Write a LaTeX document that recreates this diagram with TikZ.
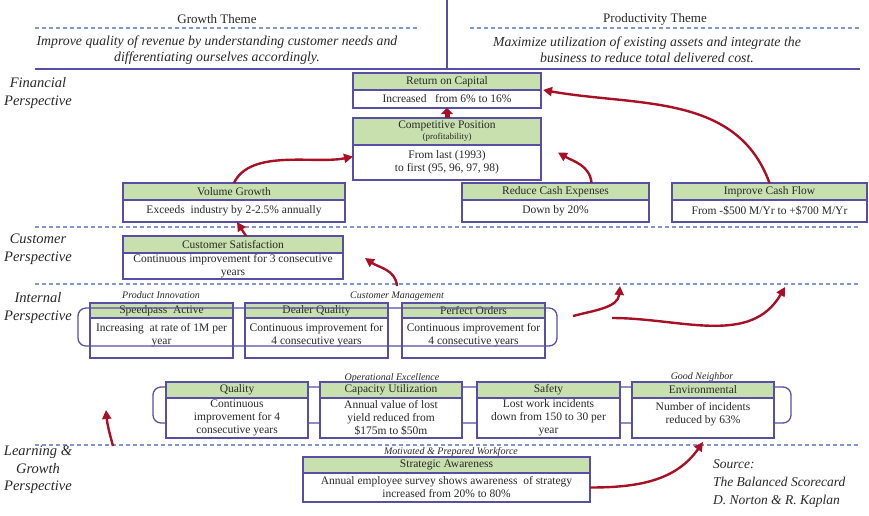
\documentclass[tikz,border=0pt]{standalone}
\usepackage{fontspec}
\setmainfont{Liberation Serif}
\usetikzlibrary{positioning,arrows.meta}

\definecolor{boxline}{RGB}{88,78,165}
\definecolor{hdrgreen}{RGB}{200,224,174}
\definecolor{arrowred}{RGB}{168,16,38}
\definecolor{dashblue}{RGB}{128,150,210}
\definecolor{inktext}{RGB}{40,40,40}

\begin{document}
\begin{tikzpicture}[x=1pt, y=1pt, every node/.style={inner sep=0pt, outer sep=0pt, text=inktext}]
	\tikzstyle{hdr}=[draw=boxline, line width=1.2pt, fill=hdrgreen, align=center, font=\fontsize{11.5}{12}\selectfont]
	\tikzstyle{body}=[draw=boxline, line width=1.2pt, fill=white, align=center, font=\fontsize{11.5}{13}\selectfont]
	\tikzstyle{theme}=[font=\fontsize{13}{15}\selectfont]
	\tikzstyle{aim}=[align=center, font=\fontsize{13.8}{16}\selectfont\itshape]
	\tikzstyle{persp}=[align=center, font=\fontsize{14.5}{17.5}\selectfont\itshape]
	\tikzstyle{tag}=[font=\fontsize{10}{11}\selectfont\itshape]
	\tikzstyle{sep}=[dashblue, line width=1.2pt, dash pattern=on 4pt off 3pt]
	\tikzstyle{rule}=[boxline, line width=1.3pt]
	\tikzstyle{link}=[arrowred, line width=2.4pt, -{Triangle[length=9pt,width=9pt]}]
	\useasboundingbox (0,0) rectangle (869,-515);

	\node[theme] (gt) at (217,-19) {Growth Theme};
	\node[aim] (gtx) at (217,-50) {Improve quality of revenue by understanding customer needs and\\differentiating ourselves accordingly.};
	\node[theme] (pt) at (655,-19) {Productivity Theme};
	\node[aim] (ptx) at (647,-50) {Maximize utilization of existing assets and integrate the\\business to reduce total delivered cost.};
	\draw[sep] (35,-28) -- (420,-28);
	\draw[sep] (470,-28) -- (860,-28);
	\draw[rule] (35,-69) -- (860,-69);
	\draw[rule] (447,0) -- (447,-69);

	\draw[sep] (35,-227) -- (860,-227);
	\draw[sep] (35,-284) -- (860,-284);
	\draw[sep] (35,-445) -- (860,-445);

	\node[persp] (pf) at (38,-93) {Financial\\Perspective};
	\node[persp] (pc) at (38,-249) {Customer\\Perspective};
	\node[persp] (pi) at (38,-308) {Internal\\Perspective};
	\node[persp] (pl) at (38,-470) {Learning \&\\Growth\\Perspective};

	\node[hdr, minimum width=188pt, minimum height=17pt, anchor=north west] (roch) at (353,-73) {Return on Capital};
	\node[body, minimum width=188pt, minimum height=18pt, below=0pt of roch] (rocb) {Increased~~ from 6\% to 16\%};
	\node[hdr, minimum width=188pt, minimum height=27pt, anchor=north west] (cph) at (353,-118) {Competitive Position\\[-1pt]{\fontsize{9}{10}\selectfont(profitability)}};
	\node[body, minimum width=188pt, minimum height=35pt, below=0pt of cph] (cpb) {From last (1993)\\to first (95, 96, 97, 98)};
	\node[hdr, minimum width=222pt, minimum height=17pt, anchor=north west] (vgh) at (123,-183) {Volume Growth};
	\node[body, minimum width=222pt, minimum height=22pt, below=0pt of vgh] (vgb) {Exceeds~ industry by 2-2.5\% annually};
	\node[hdr, minimum width=187pt, minimum height=17pt, anchor=north west] (rceh) at (462,-183) {Reduce Cash Expenses};
	\node[body, minimum width=187pt, minimum height=22pt, below=0pt of rceh] (rceb) {Down by 20\%};
	\node[hdr, minimum width=195pt, minimum height=17pt, anchor=north west] (icfh) at (672,-183) {Improve Cash Flow};
	\node[body, minimum width=195pt, minimum height=22pt, below=0pt of icfh] (icfb) {From -\$500 M/Yr to +\$700 M/Yr};

	\node[hdr, minimum width=220pt, minimum height=17pt, anchor=north west] (csh) at (123,-236) {Customer Satisfaction};
	\node[body, minimum width=220pt, minimum height=26pt, below=0pt of csh] (csb) {Continuous improvement for 3 consecutive\\years};

	\node[tag] (tpi) at (161,-295) {Product Innovation};
	\node[tag] (tcm) at (397,-296) {Customer Management};
	\node[hdr, minimum width=143pt, minimum height=15pt, anchor=north west] (sph) at (90,-303) {Speedpass~ Active};
	\node[body, minimum width=143pt, minimum height=40pt, below=0pt of sph] (spb) {Increasing~ at rate of 1M per\\year\\[-4pt]};
	\node[hdr, minimum width=143pt, minimum height=15pt, anchor=north west] (dqh) at (245,-303) {Dealer Quality};
	\node[body, minimum width=143pt, minimum height=40pt, below=0pt of dqh] (dqb) {Continuous improvement for\\4 consecutive years\\[-4pt]};
	\node[hdr, minimum width=143pt, minimum height=15pt, anchor=north west] (poh) at (402,-303) {Perfect Orders};
	\node[body, minimum width=143pt, minimum height=40pt, below=0pt of poh] (pob) {Continuous improvement for\\4 consecutive years\\[-4pt]};
	\draw[rule, rounded corners=8pt] (78,-308) rectangle (557,-346);

	\draw[rule, rounded corners=8pt] (153,-387) rectangle (791,-423);
	\node[tag] (toe) at (392,-378) {Operational Excellence};
	\node[tag] (tgn) at (702,-377) {Good Neighbor};
	\node[hdr, minimum width=142pt, minimum height=16pt, anchor=north west] (qlh) at (166,-382) {Quality};
	\node[body, minimum width=142pt, minimum height=40pt, below=0pt of qlh] (qlb) {Continuous\\improvement for 4\\consecutive years};
	\node[hdr, minimum width=142pt, minimum height=16pt, anchor=north west] (cuh) at (320,-382) {Capacity Utilization};
	\node[body, minimum width=142pt, minimum height=40pt, below=0pt of cuh] (cub) {Annual value of lost\\yield reduced from\\\$175m to \$50m};
	\node[hdr, minimum width=143pt, minimum height=16pt, anchor=north west] (sfh) at (477,-382) {Safety};
	\node[body, minimum width=143pt, minimum height=40pt, below=0pt of sfh] (sfb) {Lost work incidents\\down from 150 to 30 per\\year};
	\node[hdr, minimum width=142pt, minimum height=16pt, anchor=north west] (enh) at (632,-382) {Environmental};
	\node[body, minimum width=142pt, minimum height=40pt, below=0pt of enh] (enb) {Number of incidents\\reduced by 63\%\\[-2pt]};

	\node[tag] (tmw) at (451,-452) {Motivated \& Prepared Workforce};
	\node[hdr, minimum width=287pt, minimum height=16pt, anchor=north west] (sah) at (303,-457) {Strategic Awareness};
	\node[body, minimum width=287pt, minimum height=29pt, below=0pt of sah] (sab) {Annual employee survey shows awareness~ of strategy\\increased from 20\% to 80\%};

	\node[anchor=north west, align=left, font=\fontsize{13.5}{18}\selectfont\itshape] (src) at (713,-460) {Source:\\The Balanced Scorecard\\D. Norton \& R. Kaplan};

	\coordinate (cmout) at (397,-286);
	\coordinate (lpout) at (113,-446);
	\coordinate (opa) at (573,-316);
	\coordinate (opa') at (620,-286);
	\coordinate (opb) at (612,-318);
	\coordinate (opb') at (785,-287);
	\coordinate (lpin) at (106,-410);

	\draw[arrowred, line width=5pt, -{Triangle[length=6pt,width=12pt]}] (cph.north) -- (rocb.south);
	\draw[link] (vgh.north) to[out=65,in=192,looseness=0.8] ([yshift=6pt]cpb.west);
	\draw[link] ([xshift=36pt]rceh.north) to[out=95,in=-30] ([xshift=17pt,yshift=10pt]cpb.east);
	\draw[link] (icfh.north) to[out=110,in=-10] ([xshift=2pt]rocb.north east);
	\draw[link] ([xshift=13pt]csh.north) -- ([xshift=3pt]vgb.south);
	\draw[link] (cmout) to[out=95,in=-35] ([xshift=22pt,yshift=8pt]csb.east);
	\draw[link] (opa) to[out=15,in=-95] (opa');
	\draw[link] (opb) to[out=0,in=-120] (opb');
	\draw[link] (lpout) to[out=105,in=-85] (lpin);
	\draw[link] (sab.east) to[out=0,in=-125] ([yshift=-4pt]enb.south);
\end{tikzpicture}
\end{document}
